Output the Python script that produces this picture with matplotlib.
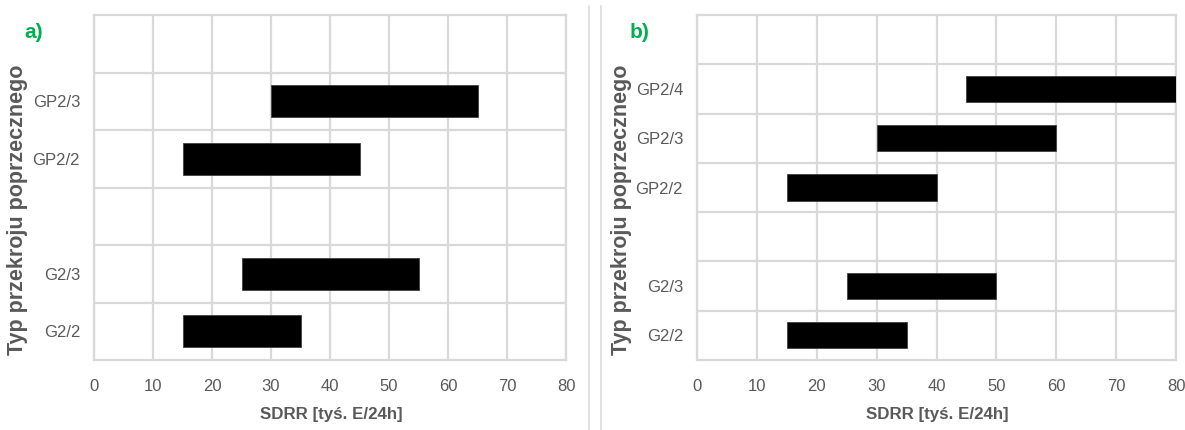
import matplotlib.pyplot as plt
from matplotlib.lines import Line2D

# panel a) data
cats_a = ['G2/2', 'G2/3', '', 'GP2/2', 'GP2/3', '']
start_a = [15, 25, None, 15, 30, None]
end_a = [35, 55, None, 45, 65, None]

# panel b) data
cats_b = ['G2/2', 'G2/3', '', 'GP2/2', 'GP2/3', 'GP2/4', '']
start_b = [15, 25, None, 15, 30, 45, None]
end_b = [35, 50, None, 40, 60, 80, None]

x_ticks = [0, 10, 20, 30, 40, 50, 60, 70, 80]

grid_col = '#d9d9d9'
text_col = '#595959'
font = 'Liberation Sans'

fig = plt.figure(figsize=(11.85, 4.3), dpi=100)


def draw_panel(rect, cats, starts, ends, bar_h):
    ax = fig.add_axes(rect)
    ypos = list(range(len(cats)))
    for y, s, e in zip(ypos, starts, ends):
        if s is None:
            continue
        ax.barh(y, e - s, left=s, height=bar_h, color='black',
                edgecolor='#404040', linewidth=0.6, zorder=3)
    ax.set_xlim(0, 80)
    ax.set_ylim(-0.5, len(cats) - 0.5)
    ax.set_xticks(x_ticks)
    ax.set_yticks(ypos)
    ax.set_yticklabels(cats)
    # gridlines sit on category boundaries like in Excel
    ax.set_yticks([y + 0.5 for y in ypos[:-1]], minor=True)
    ax.grid(axis='x', which='major', color=grid_col, linewidth=1.6, zorder=0)
    ax.grid(axis='y', which='minor', color=grid_col, linewidth=1.6, zorder=0)
    ax.tick_params(which='both', length=0)
    ax.tick_params(axis='x', pad=14)
    ax.tick_params(axis='y', pad=10)
    for lab in ax.get_xticklabels() + ax.get_yticklabels():
        lab.set_family(font)
        lab.set_fontsize(12)
        lab.set_color(text_col)
    for sp in ax.spines.values():
        sp.set_color(grid_col)
        sp.set_linewidth(1.6)
    return ax


ax_a = draw_panel([94 / 1185, 1 - 360 / 430, 472 / 1185, 345 / 430],
                  cats_a, start_a, end_a, 0.56)
ax_b = draw_panel([697 / 1185, 1 - 360 / 430, 479 / 1185, 345 / 430],
                  cats_b, start_b, end_b, 0.53)

# axis titles
for xc, yc in [(18, 210), (622, 210)]:
    fig.text(xc / 1185, 1 - yc / 430, 'Typ przekroju poprzecznego',
             rotation=90, ha='center', va='center', fontsize=15.5,
             fontweight='bold', color=text_col, family=font)
for xc in [331, 937]:
    fig.text(xc / 1185, 1 - 415 / 430, 'SDRR [tyś. E/24h]',
             ha='center', va='center', fontsize=12.2, fontweight='bold',
             color=text_col, family=font)

# panel letters
fig.text(34 / 1185, 1 - 32 / 430, 'a)', ha='center', va='center',
         fontsize=15, fontweight='bold', color='#00b050', family=font)
fig.text(640 / 1185, 1 - 32 / 430, 'b)', ha='center', va='center',
         fontsize=15, fontweight='bold', color='#00b050', family=font)

# separator between the two panels
for xs in [589, 601]:
    fig.add_artist(Line2D([xs / 1185, xs / 1185], [0, 1 - 6 / 430],
                          color='#dcdcdc', linewidth=1.2))

fig.savefig('out.png', dpi=100)
